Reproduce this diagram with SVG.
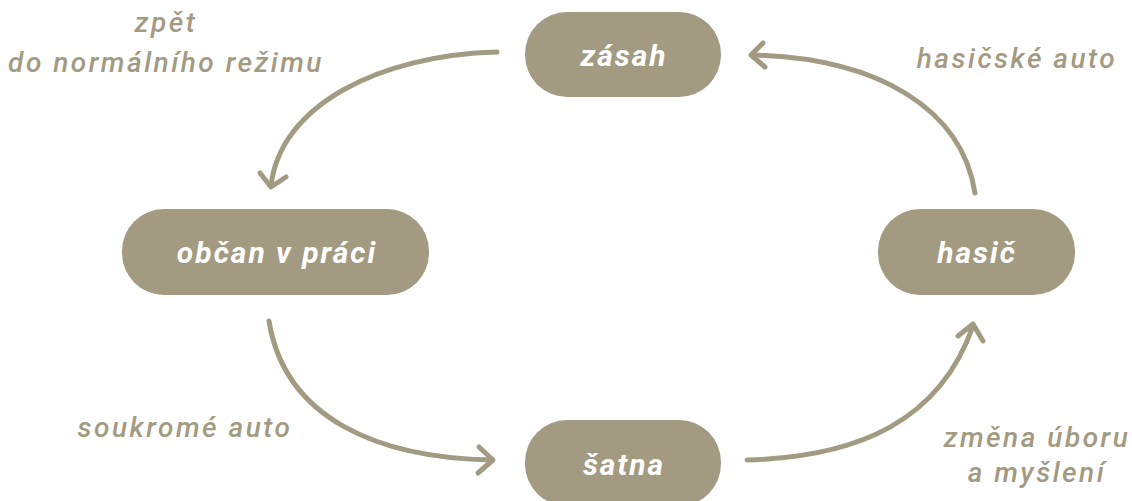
<svg xmlns="http://www.w3.org/2000/svg" width="1132" height="501" viewBox="0 0 1132 501">
<style>
.node{fill:#a29b82}
.nt{fill:#ffffff;font-family:Roboto,"Liberation Sans",sans-serif;font-style:italic;font-weight:700;font-size:30px;letter-spacing:2px;text-anchor:middle}
.lbl{fill:#a29b82;font-family:Roboto,"Liberation Sans",sans-serif;font-style:italic;font-weight:500;font-size:28px;letter-spacing:2.5px;text-anchor:middle}
.edge{fill:none;stroke:#a29b82;stroke-width:5;stroke-linecap:round;stroke-linejoin:round}
</style>
<rect width="1132" height="501" fill="#ffffff"/>
<g id="connectors">
<path class="edge" d="M497,52 C380,55 280,105 271,186"/>
<path class="edge" d="M260,173 L271,187 L286,177"/>
<path class="edge" d="M975,193 C962,110 880,58 752,55"/>
<path class="edge" d="M763,43 L751,55 L765,67"/>
<path class="edge" d="M269,321 C285,420 380,458 492,460"/>
<path class="edge" d="M479,447 L493,460 L478,473"/>
<path class="edge" d="M747,460 C860,457 940,420 973,326"/>
<path class="edge" d="M958,336 L973,324 L983,341"/>
</g>
<g id="zasah">
<rect class="node" x="525" y="12" width="196" height="85" rx="42"/>
<text class="nt" x="624" y="66">zásah</text>
</g>
<g id="obcan">
<rect class="node" x="122" y="209" width="307" height="86" rx="42"/>
<text class="nt" x="277" y="263">občan v práci</text>
</g>
<g id="hasic">
<rect class="node" x="878" y="209" width="197" height="86" rx="42"/>
<text class="nt" x="977" y="263">hasič</text>
</g>
<g id="satna">
<rect class="node" x="525" y="420" width="196" height="86" rx="42"/>
<text class="nt" x="624" y="475">šatna</text>
</g>
<g id="labels">
<text class="lbl" x="166" y="32">zpět</text>
<text class="lbl" x="166" y="72">do normálního režimu</text>
<text class="lbl" x="1017" y="68">hasičské auto</text>
<text class="lbl" x="185" y="437">soukromé auto</text>
<text class="lbl" x="1037" y="447">změna úboru</text>
<text class="lbl" x="1037" y="482">a myšlení</text>
</g>
</svg>
